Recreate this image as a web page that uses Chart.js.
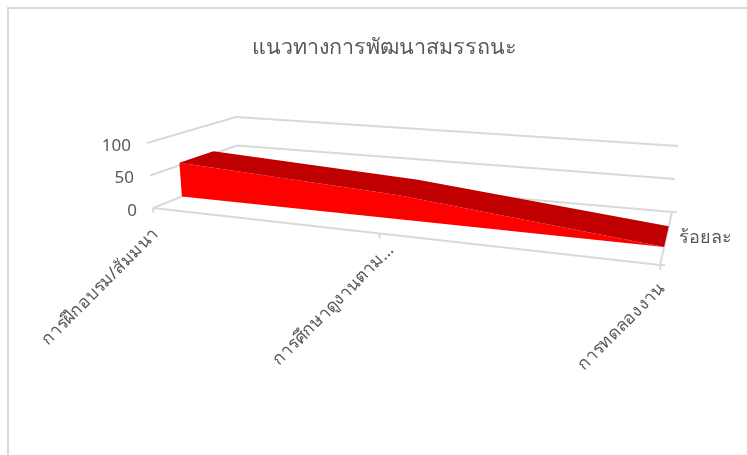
<!DOCTYPE html>
<html>
<head>
<meta charset="utf-8">
<title>chart</title>
<script src="https://cdn.jsdelivr.net/npm/chart.js@4/dist/chart.umd.js"></script>
<style>
html, body { margin: 0; padding: 0; background: #fff; overflow: hidden; }
#box { position: absolute; left: 7px; top: 7px; width: 740px; height: 448px; border-top: 2px solid #d9d9d9; border-left: 2px solid #d9d9d9; box-sizing: border-box; }
canvas { position: absolute; left: 0; top: 0; }
</style>
</head>
<body>
<div id="box"></div>
<canvas id="myChart" width="747" height="455"></canvas>
<script>
const chart_title = 'แนวทางการพัฒนาสมรรถนะ';
const categories = ['การฝึกอบรม/สัมมนา', 'การศึกษาดูงานตาม...', 'การทดลองงาน'];
const series_name = 'ร้อยละ';
const series_values = [54, 36, 0];
const value_ticks = [0, 50, 100];

const thai_font = '"Noto Sans", "Open Sans", sans-serif';
const text_color = '#595959';
const grid_color = '#d9d9d9';

// corners of the 3d box on screen, [value level][depth], left and right side
const box_left = [[[153, 208], [238, 174]], [[147, 143], [236, 117]]];
const box_right = [[[660, 265], [672, 212]], [[669, 190], [678, 146]]];
const area_front = 0.34;
const area_back = 0.73;
const persp = 1.242;
// where each slanted label ends, measured from its tick
const label_anchor = [[3, 23], [12, 14], [2, 21]];

function lerp(a, b, t){
    return a + (b - a) * t;
}

function project(u, v, d){
    const w = u / (u + (1 - u) * persp);
    const side = (c) => [0, 1].map((i) => {
        const front = lerp(c[0][0][i], c[1][0][i], v);
        const back = lerp(c[0][1][i], c[1][1][i], v);
        return lerp(front, back, d);
    });
    const l = side(box_left);
    const r = side(box_right);
    return [lerp(l[0], r[0], w), lerp(l[1], r[1], w)];
}

function poly(ctx, pts, color){
    ctx.beginPath();
    pts.forEach((p, i) => i == 0 ? ctx.moveTo(p[0], p[1]) : ctx.lineTo(p[0], p[1]));
    ctx.closePath();
    ctx.fillStyle = color;
    ctx.fill();
}

function seg(ctx, a, b){
    ctx.beginPath();
    ctx.moveTo(a[0], a[1]);
    ctx.lineTo(b[0], b[1]);
    ctx.stroke();
}

// line controller that shows its points as a 3d ribbon
class Area3dController extends Chart.LineController {
    draw(){
        const ctx = this.chart.ctx;
        const area = this.chart.chartArea;
        const points = this.getMeta().data;
        const uv = points.map((p) => [
            (p.x - area.left) / area.width,
            (area.bottom - p.y) / area.height
        ]);
        const front = uv.map((p) => project(p[0], p[1], area_front));
        const back = uv.map((p) => project(p[0], p[1], area_back));
        const bottom = uv.map((p) => project(p[0], 0, area_front));

        poly(ctx, front.concat(bottom.slice().reverse()), '#ff0000');
        poly(ctx, front.concat(back.slice().reverse()), '#c00000');
    }
}
Area3dController.id = 'area3d';
Area3dController.defaults = Chart.LineController.defaults;
Area3dController.overrides = Chart.LineController.overrides;
Chart.register(Area3dController);

const walls = {
    id: 'walls',
    beforeDatasetsDraw(chart){
        const ctx = chart.ctx;
        const y = chart.scales.y;
        const x = chart.scales.x;
        const area = chart.chartArea;
        ctx.save();
        ctx.strokeStyle = grid_color;
        ctx.lineWidth = 2;
        y.ticks.forEach((t) => {
            const v = (area.bottom - y.getPixelForValue(t.value)) / area.height;
            seg(ctx, project(0, v, 0), project(0, v, 1));
            seg(ctx, project(0, v, 1), project(1, v, 1));
        });
        seg(ctx, project(0, 0, 0), project(1, 0, 0));
        seg(ctx, project(1, 0, 0), project(1, 0, 1));
        categories.forEach((c, i) => {
            const u = (x.getPixelForValue(i) - area.left) / area.width;
            const p = project(u, 0, 0);
            seg(ctx, p, [p[0] + 0.5, p[1] + 5]);
        });
        [0, 1].forEach((d) => {
            const p = project(1, 0, d);
            seg(ctx, p, [p[0] + 5, p[1]]);
        });
        ctx.restore();
    },
    afterDraw(chart){
        const ctx = chart.ctx;
        const y = chart.scales.y;
        const x = chart.scales.x;
        const area = chart.chartArea;
        ctx.save();
        ctx.fillStyle = text_color;
        ctx.font = '17px ' + thai_font;
        ctx.textBaseline = 'middle';
        ctx.textAlign = 'right';
        y.ticks.forEach((t) => {
            const v = (area.bottom - y.getPixelForValue(t.value)) / area.height;
            const p = project(0, v, 0);
            ctx.fillText(t.label, p[0] - 16, p[1] + 3);
        });
        ctx.font = '17.5px ' + thai_font;
        categories.forEach((c, i) => {
            const u = (x.getPixelForValue(i) - area.left) / area.width;
            const p = project(u, 0, 0);
            ctx.save();
            ctx.translate(p[0] + label_anchor[i][0], p[1] + label_anchor[i][1]);
            ctx.rotate(-Math.PI / 4);
            ctx.fillText(c, 0, 0);
            ctx.restore();
        });
        ctx.font = '18px ' + thai_font;
        ctx.textAlign = 'left';
        const s = project(1, 0, 0.5);
        ctx.fillText(series_name, s[0] + 13, s[1] - 1);
        ctx.restore();
    }
};

const chart = new Chart(document.getElementById('myChart'), {
    type: 'area3d',
    data: {
        labels: categories,
        datasets: [{ label: series_name, data: series_values }]
    },
    options: {
        responsive: false,
        animation: false,
        layout: { padding: { left: 21, right: 0, bottom: 60 } },
        scales: {
            x: { type: 'category', display: false },
            y: { type: 'linear', display: false, min: 0, max: 100, afterBuildTicks(scale){ scale.ticks = value_ticks.map((v) => ({ value: v, label: String(v) })); } }
        },
        plugins: {
            legend: { display: false },
            tooltip: { enabled: false },
            title: {
                display: true,
                text: chart_title,
                color: text_color,
                font: { family: thai_font, size: 21.5, weight: '500' },
                padding: { top: 35, bottom: 10 }
            }
        }
    },
    plugins: [walls]
});
</script>
</body>
</html>
